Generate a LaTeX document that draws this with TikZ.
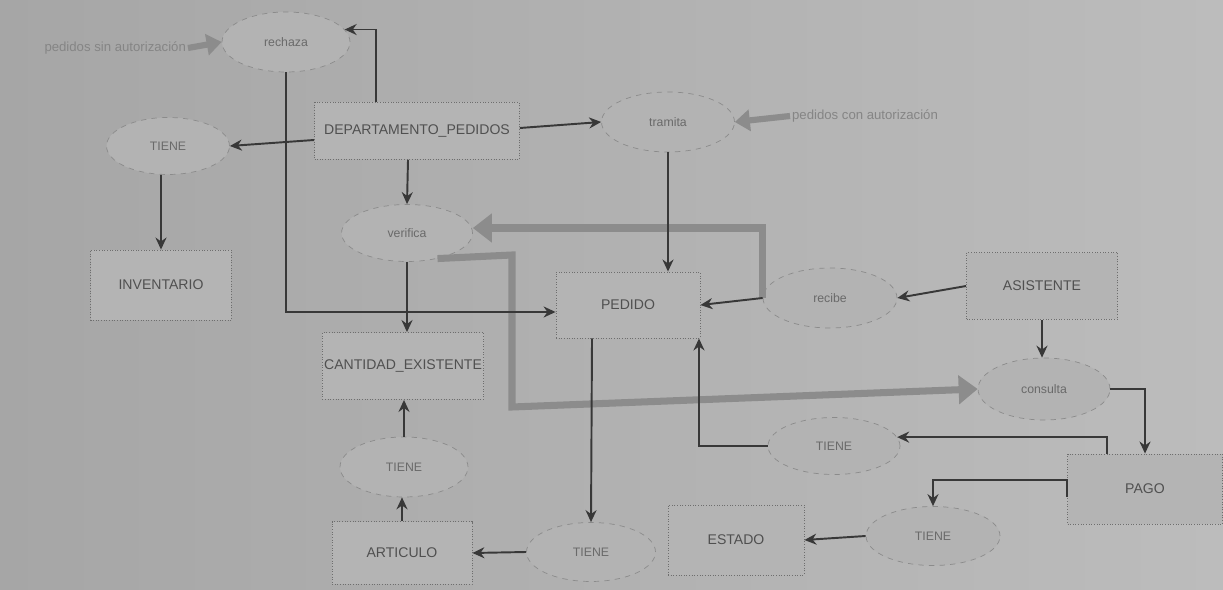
\documentclass[tikz,border=0pt]{standalone}
\usepackage{fontspec}
\setmainfont{Liberation Sans}
\usetikzlibrary{shapes.geometric,arrows.meta,calc}
\definecolor{bgL}{HTML}{A6A6A6}
\definecolor{bgR}{HTML}{BCBCBC}
\definecolor{boxfill}{HTML}{B4B4B4}
\definecolor{ellfill}{HTML}{B3B3B3}
\definecolor{edge}{HTML}{6E6E6E}
\definecolor{ink}{HTML}{383838}
\definecolor{txt}{HTML}{505050}
\definecolor{fat}{HTML}{8C8C8C}
\tikzset{
  ent/.style={rectangle, fill=boxfill, draw=edge, densely dotted, line width=0.5pt, text=txt, font=\fontsize{8}{9}\selectfont, inner sep=1pt},
  rel/.style={ellipse, fill=ellfill, draw=edge!80, dashed, line width=0.4pt, text=txt!85, font=\fontsize{7}{8}\selectfont, inner sep=0pt},
  arr/.style={draw=ink, line width=1.1pt, -{Stealth[length=2.4mm,width=2.2mm]}},
  fatarr/.style={draw=fat, line width=4pt, -{Triangle[length=0.38cm,width=0.56cm]}},
  note/.style={text=txt!70, font=\fontsize{7.5}{8}\selectfont, inner sep=1pt}
}
\begin{document}
\begin{tikzpicture}[x=0.02cm,y=-0.02cm]
\shade[left color=bgL, right color=bgR] (0,0) rectangle (1223,590);
\useasboundingbox (0,0) rectangle (1223,590);

% entities and relations
\node[rel, minimum width=2.56cm, minimum height=1.2cm] (rech) at (286,42) {rechaza};
\node[ent, minimum width=4.1cm, minimum height=1.14cm] (dep) at (417,131) {DEPARTAMENTO\_PEDIDOS};
\node[rel, minimum width=2.66cm, minimum height=1.2cm] (tram) at (668,122) {tramita};
\node[rel, minimum width=2.46cm, minimum height=1.14cm] (t1) at (168,146) {TIENE};
\node[ent, minimum width=2.82cm, minimum height=1.4cm] (inv) at (161,285) {INVENTARIO};
\node[rel, minimum width=2.62cm, minimum height=1.14cm] (ver) at (407,233) {verifica};
\node[ent, minimum width=2.88cm, minimum height=1.32cm] (ped) at (628,305) {PEDIDO};
\node[rel, minimum width=2.68cm, minimum height=1.2cm] (rec) at (830,298) {recibe};
\node[ent, minimum width=3.02cm, minimum height=1.34cm] (asis) at (1042,286) {ASISTENTE};
\node[ent, minimum width=2.92cm, minimum height=1.34cm] (cant) at (403,366) {CANTIDAD\_EXISTENTE};
\node[rel, minimum width=2.64cm, minimum height=1.24cm] (cons) at (1044,389) {consulta};
\node[rel, minimum width=2.64cm, minimum height=1.14cm] (t2) at (834,446) {TIENE};
\node[ent, minimum width=3.1cm, minimum height=1.4cm] (pago) at (1145,489) {PAGO};
\node[rel, minimum width=2.56cm, minimum height=1.2cm] (t3) at (404,467) {TIENE};
\node[ent, minimum width=2.8cm, minimum height=1.26cm] (art) at (402,553) {ARTICULO};
\node[rel, minimum width=2.58cm, minimum height=1.18cm] (t4) at (591,552) {TIENE};
\node[ent, minimum width=2.72cm, minimum height=1.4cm] (est) at (736,540) {ESTADO};
\node[rel, minimum width=2.68cm, minimum height=1.18cm] (t5) at (933,536) {TIENE};

% side notes
\node[note, anchor=east] (n1) at (188,48) {pedidos sin autorización};
\node[note, anchor=west] (n2) at (790,116) {pedidos con autorización};

% thick grey arrows
\draw[fatarr, -{Triangle[length=0.3cm,width=0.42cm]}, line width=3.5pt] (n1.east) -- (rech.west);
\draw[fatarr, -{Triangle[length=0.3cm,width=0.42cm]}, line width=3.5pt] (n2.west) -- (tram.east);
\draw[fatarr] (rec.west) |- ([yshift=0.1cm]ver.east);
\coordinate (g1) at (512,255);
\coordinate (g2) at (512,407);
\draw[fatarr] (ver.-40) -- (g1) -- (g2) -- (cons.west);

% black connectors
\draw[arr] ([xshift=-0.82cm]dep.north) |- (rech.12);
\draw[arr] (rech.south) |- ([yshift=-0.14cm]ped.west);
\draw[arr] ([yshift=-0.18cm]dep.west) -- (t1.east);
\draw[arr] ([xshift=-0.14cm]t1.south) -- (inv.north);
\draw[arr] ([yshift=0.06cm]dep.east) -- (tram.west);
\draw[arr] (tram.south) -- (tram.south |- ped.north);
\draw[arr] ([xshift=-0.18cm]dep.south) -- (ver.north);
\draw[arr] (ver.south) -- (ver.south |- cant.north);
\draw[arr] (rec.west) -- (ped.east);
\draw[arr] (asis.west) -- (rec.east);
\draw[arr] (asis.south) -- (asis.south |- cons.north);
\draw[arr] (cons.east) -| (pago.north);
\draw[arr] ([xshift=-0.76cm]pago.north) |- (t2.8);
\draw[arr] (t2.west) -| ([xshift=1.42cm]ped.south);
\draw[arr] ([xshift=-0.72cm]ped.south) -- (t4.north);
\draw[arr] (t4.west) -- (art.east);
\draw[arr] (art.north) -- (art.north |- t3.south);
\draw[arr] (t3.north) -- (t3.north |- cant.south);
\draw[arr] ([yshift=-0.16cm]pago.west) -- ++(0,-17) -| (t5.north);
\draw[arr] (t5.west) -- (est.east);
\end{tikzpicture}
\end{document}
